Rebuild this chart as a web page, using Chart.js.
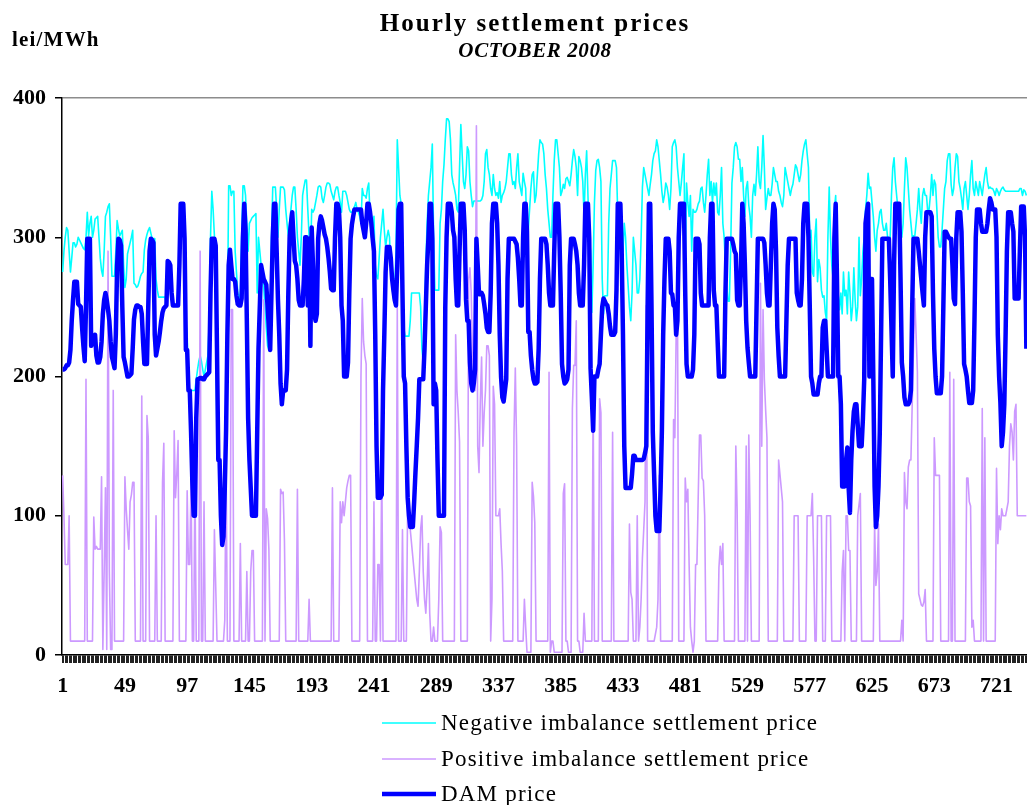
<!DOCTYPE html>
<html>
<head>
<meta charset="utf-8">
<title>Hourly settlement prices</title>
<script src="https://cdn.jsdelivr.net/npm/chart.js@4.4.1/dist/chart.umd.min.js"></script>
<style>
  html, body { margin: 0; padding: 0; background: #fff; overflow: hidden; }
  #wrap { width: 1027px; height: 805px; }
</style>
</head>
<body>
<div id="wrap"><canvas id="chart" width="1027" height="805"></canvas></div>
<script>
// one row per day, 24 hourly values (lei/MWh)
const damPrice = [
  205,205,206,208,208,210,219,240,255,268,268,268,252,251,250,235,222,211,250,299,299,299,222,225,
  228,230,215,210,210,214,225,245,255,260,255,248,240,225,214,210,206,230,280,299,298,294,250,214,
  210,205,200,200,201,202,220,241,248,251,251,250,250,245,225,209,209,209,250,290,299,298,296,230,
  215,220,225,232,240,246,249,250,251,283,282,280,260,251,251,251,251,251,280,324,324,324,299,219,
  219,190,190,160,124,100,100,170,198,198,199,199,198,198,200,201,202,203,260,299,299,299,294,219,
  140,140,100,79,85,120,161,230,280,291,280,270,270,268,258,252,251,251,256,300,324,305,240,170,
  140,120,100,100,100,100,160,220,250,280,275,270,268,266,250,235,219,260,300,324,324,290,255,230,
  195,180,190,190,190,205,260,300,310,318,300,283,280,270,255,251,251,251,270,300,300,251,299,222,
  307,280,245,240,245,299,310,315,312,307,302,299,293,285,275,263,262,262,300,324,324,320,300,251,
  240,200,200,200,210,260,299,309,315,320,320,320,320,320,320,310,305,300,310,324,324,318,310,299,
  290,230,150,113,113,113,115,190,230,275,293,293,293,285,270,262,255,251,280,320,324,324,260,200,
  195,150,113,100,92,92,92,110,131,150,170,198,198,198,198,220,250,280,299,324,324,299,180,195,
  190,140,100,100,100,100,100,250,300,324,324,324,318,305,300,270,251,251,290,324,324,324,305,255,
  240,240,210,195,190,195,205,299,280,259,259,260,258,252,245,235,232,232,260,310,324,324,324,310,
  280,230,200,185,182,190,198,270,299,299,299,299,299,297,295,285,270,251,251,300,324,324,304,232,
  232,215,205,198,195,195,196,220,270,299,299,299,299,295,280,260,251,251,251,290,324,324,324,300,
  260,209,200,195,196,198,205,280,299,299,299,295,290,280,260,251,251,251,280,324,324,324,299,206,
  185,161,200,200,200,205,209,230,250,256,254,252,251,245,236,230,230,230,232,262,324,324,324,290,
  230,150,120,120,120,120,120,130,143,143,140,140,140,140,140,140,141,145,150,250,324,324,250,160,
  130,100,89,89,89,120,161,230,270,299,299,299,290,260,259,251,251,230,240,300,324,324,324,324,
  260,209,200,200,200,200,205,230,299,299,299,295,260,251,251,251,251,251,251,300,324,324,262,251,
  251,225,200,200,200,200,200,260,299,299,299,299,299,295,290,288,255,251,251,280,324,310,280,240,
  221,210,200,200,200,200,200,250,299,299,299,299,299,296,280,260,251,251,280,310,324,320,290,235,
  215,200,200,200,200,200,240,280,299,299,299,299,299,299,260,255,251,251,270,310,324,324,324,300,
  251,200,195,187,187,187,187,195,200,200,235,240,240,220,200,200,200,200,200,300,324,270,200,200,
  180,121,121,121,140,149,120,102,140,161,175,180,180,165,150,150,150,170,198,310,318,324,200,270,
  270,200,121,92,100,121,160,230,299,299,299,299,299,299,270,235,200,280,324,324,324,324,270,210,
  200,185,180,180,180,182,190,250,299,299,299,299,290,280,270,260,251,300,318,318,318,318,315,260,
  220,200,188,188,188,188,200,250,304,304,302,300,299,299,280,256,252,300,318,318,318,304,260,209,
  205,200,190,181,181,181,190,240,300,320,320,320,310,304,304,304,304,310,320,328,325,320,320,320,
  300,230,200,181,150,160,180,230,290,318,318,318,310,304,256,256,256,256,290,322,322,322,300,220
];

const negativePrice = [
  275,290,300,307,305,290,275,285,296,296,293,295,300,298,296,294,292,291,300,318,301,310,315,300,
  305,313,314,315,300,285,276,272,290,315,318,322,324,300,272,272,272,290,312,306,301,303,305,280,
  264,270,288,292,296,300,305,267,266,264,265,268,272,274,275,291,298,302,305,307,303,299,299,299,
  270,262,257,257,257,257,257,257,251,283,282,280,262,252,251,251,251,251,280,324,324,324,304,240,
  230,195,190,190,190,190,190,198,205,211,215,211,205,200,205,210,215,240,300,333,320,301,250,150,
  140,140,100,85,90,125,165,240,337,337,330,333,333,290,275,260,255,260,300,337,337,330,310,290,
  310,312,314,315,316,317,260,300,290,280,270,264,250,235,222,219,240,300,336,336,336,320,300,320,
  336,336,336,334,320,310,301,310,320,330,336,336,320,300,290,280,300,330,336,341,341,320,301,280,
  320,318,320,325,330,336,337,336,328,325,330,336,339,339,338,333,330,327,333,336,336,330,325,318,
  333,333,333,330,325,320,318,318,320,322,325,320,318,315,310,335,330,330,328,335,339,315,300,310,
  315,280,272,270,285,300,310,320,305,293,300,305,300,275,265,256,262,290,370,350,330,324,260,235,
  229,229,229,229,240,260,260,260,260,260,260,260,250,220,210,240,280,310,330,340,350,367,300,262,
  262,262,262,310,320,340,352,370,385,385,383,370,345,339,335,330,320,318,350,381,360,340,335,345,
  365,362,340,330,322,326,326,326,326,326,326,327,330,340,360,363,350,345,335,330,345,335,330,332,
  328,340,325,330,332,335,340,350,360,360,345,338,340,335,350,360,340,335,330,346,340,335,300,305,
  320,335,345,347,325,330,345,360,370,368,367,360,345,335,320,310,300,300,330,355,370,370,360,350,
  330,333,338,335,342,343,340,337,345,355,363,358,350,330,358,355,350,340,315,345,362,330,300,290,
  246,280,325,348,355,356,350,340,270,245,258,258,258,310,335,345,355,355,355,350,315,310,312,300,
  290,310,300,280,265,250,240,260,300,290,280,260,260,270,300,336,350,345,340,335,330,338,345,355,
  360,362,370,365,355,345,333,325,330,339,336,330,320,335,365,368,370,365,350,340,330,339,350,360,
  278,339,325,315,330,290,320,318,318,320,324,326,335,336,325,318,330,345,356,330,340,325,339,330,
  339,318,316,330,350,310,300,280,265,254,254,290,339,350,365,368,365,356,356,340,350,330,315,335,
  340,323,315,300,330,338,330,345,365,340,335,350,373,350,320,328,335,330,330,338,350,345,340,340,
  333,330,325,322,330,350,345,340,335,330,335,338,345,352,350,345,340,345,355,362,367,370,360,350,
  300,305,275,272,300,313,268,284,278,262,257,258,246,240,300,336,300,280,270,320,330,285,258,248,
  260,245,275,258,262,245,275,260,240,250,278,255,240,250,300,258,270,290,300,320,330,346,335,336,
  325,315,300,290,305,310,318,320,310,305,305,310,300,280,300,330,350,357,340,330,320,318,305,300,
  310,335,357,350,335,320,310,300,301,301,310,320,335,320,310,330,335,330,330,318,320,330,345,330,
  341,338,320,300,293,293,305,320,335,340,355,360,360,338,330,335,350,360,358,340,335,328,320,335,
  340,330,320,330,345,355,335,330,340,335,330,340,335,330,338,345,350,340,335,336,335,335,333,330,
  335,333,330,333,335,336,334,333,333,333,333,333,333,333,333,333,333,333,335,335,330,334,333,330
];

const positivePrice = [
  129,100,65,65,65,100,10,10,10,10,10,10,10,10,10,10,10,10,198,10,10,10,10,10,
  99,76,78,76,76,76,128,4,60,120,4,290,60,4,4,190,10,10,10,10,10,10,10,10,
  128,105,90,76,110,115,124,124,10,10,10,10,10,186,10,10,10,172,156,10,10,10,10,10,
  100,10,10,10,10,124,152,10,10,10,10,10,10,10,161,113,130,154,10,10,10,10,10,10,
  118,65,65,126,10,10,126,10,10,10,290,10,10,110,10,10,10,10,10,10,10,90,50,10,
  10,10,10,10,10,25,140,10,10,10,248,248,10,10,10,10,10,80,10,10,10,10,60,10,
  10,60,75,75,10,10,10,10,10,10,10,255,10,105,98,76,10,10,10,10,10,10,10,10,
  119,116,117,82,10,10,10,10,10,10,10,10,10,119,10,10,10,10,10,10,10,10,40,10,
  10,10,10,10,10,10,10,10,10,10,10,10,10,10,10,10,120,10,10,10,10,10,110,95,
  110,100,110,120,125,129,129,10,10,10,10,10,10,10,200,256,225,215,209,10,10,10,10,10,
  110,10,10,65,65,10,140,10,10,10,10,10,10,10,10,10,10,10,251,10,10,10,90,10,
  10,10,110,100,90,80,70,60,50,40,35,60,90,100,60,40,30,50,80,30,10,10,20,10,
  10,10,40,92,88,10,10,10,10,10,10,10,10,10,10,230,190,174,153,10,10,10,10,10,
  10,270,278,260,214,200,190,380,150,131,182,214,150,174,190,222,222,215,10,40,193,180,100,100,
  100,105,80,60,10,10,10,10,10,10,10,10,160,206,150,10,10,10,10,10,40,20,2,2,
  2,2,124,114,95,10,10,10,10,10,10,10,10,10,10,203,2,10,10,2,2,2,2,2,
  2,2,116,123,10,10,2,2,2,177,208,208,240,10,10,2,2,2,30,10,10,10,10,10,
  10,184,10,10,10,10,184,174,10,10,10,10,10,10,10,10,160,10,10,10,10,10,10,10,
  10,10,10,10,10,94,45,40,10,10,10,100,10,20,40,70,90,110,251,10,10,10,10,10,
  10,15,20,40,129,10,10,10,10,10,10,10,10,10,10,169,156,230,262,10,10,10,10,10,
  127,110,119,65,20,10,2,10,65,65,113,158,158,127,125,100,10,10,10,10,10,10,10,10,
  10,10,63,78,65,80,10,10,10,10,10,10,10,10,10,150,105,10,10,10,10,10,10,150,
  10,158,100,10,10,10,10,10,10,10,267,150,248,198,176,156,10,10,10,10,10,10,10,10,
  140,130,120,110,10,10,10,10,10,10,10,10,100,100,100,100,10,10,10,10,10,10,100,100,
  100,100,116,70,10,10,100,100,100,100,10,10,10,100,100,100,100,10,10,10,10,10,10,10,
  10,60,75,10,100,100,75,75,10,10,10,10,10,100,108,116,10,10,10,10,10,10,10,10,
  10,10,94,50,60,94,10,10,10,10,10,10,10,10,10,10,10,10,10,10,10,10,10,25,
  10,131,110,105,135,140,140,180,220,256,230,203,44,40,36,35,38,47,10,10,10,10,10,10,
  156,129,129,129,129,10,10,10,10,10,10,10,203,10,10,198,10,10,10,10,10,10,10,10,
  10,127,127,110,107,20,25,10,10,10,10,10,10,177,10,156,10,10,10,10,10,10,10,10,
  134,80,100,90,105,100,100,100,105,110,150,166,160,140,175,180,100,100,100,100,100,100,100,100
];

// hour numbers 1..744 as categories, only some get a label
const hours = damPrice.map((v, i) => String(i + 1));
const shownTicks = ['1','49','97','145','193','241','289','337','385','433','481','529','577','625','673','721'];

const seriesNames = ['Negative imbalance settlement price', 'Positive imbalance settlement price', 'DAM price'];
const titleText = 'Hourly settlement prices';
const subtitleText = 'OCTOBER 2008';
const unitText = 'lei/MWh';

const serif = '"Liberation Serif", "Times New Roman", serif';

const textPlugin = {
    id: 'texts',
    afterDraw(chart) {
        const c = chart.ctx;
        c.save();
        c.fillStyle = '#000';
        c.textBaseline = 'alphabetic';

        c.textAlign = 'center';
        c.font = 'bold 25px ' + serif;
        c.letterSpacing = '2px';
        c.fillText(titleText, 535, 31);
        c.font = 'italic bold 21px ' + serif;
        c.letterSpacing = '0.6px';
        c.fillText(subtitleText, 535, 57);

        c.textAlign = 'left';
        c.font = 'bold 21px ' + serif;
        c.letterSpacing = '1.2px';
        c.fillText(unitText, 12, 46);

        // legend, stacked under the plot
        c.font = '23px ' + serif;
        c.letterSpacing = '1.2px';
        c.textBaseline = 'middle';
        let ys = [723, 759, 794];
        chart.data.datasets.forEach((ds, i) => {
            c.strokeStyle = ds.borderColor;
            c.lineWidth = ds.borderWidth;
            c.beginPath();
            c.moveTo(382, ys[i]);
            c.lineTo(436, ys[i]);
            c.stroke();
            c.fillText(ds.label, 441, ys[i] + 1);
        });
        c.restore();
    }
};

new Chart(document.getElementById('chart'), {
    type: 'line',
    data: {
        labels: hours,
        datasets: [{
            label: seriesNames[0],
            data: negativePrice,
            borderColor: '#00FFFF',
            borderWidth: 1.6,
            order: 3
        }, {
            label: seriesNames[1],
            data: positivePrice,
            borderColor: '#CC99FF',
            borderWidth: 1.6,
            order: 2
        }, {
            label: seriesNames[2],
            data: damPrice,
            borderColor: '#0000FF',
            borderWidth: 4.5,
            order: 1
        }]
    },
    options: {
        responsive: false,
        animation: false,
        devicePixelRatio: 1,
        layout: {
            padding: { top: 98, right: 0, bottom: 0, left: 0 }
        },
        elements: {
            point: { radius: 0 },
            line: { tension: 0, borderJoinStyle: 'round' }
        },
        plugins: {
            legend: { display: false },
            title: { display: false },
            tooltip: { enabled: false }
        },
        scales: {
            x: {
                offset: true,
                afterFit: (scale) => {
                    scale.height = 150;
                    scale.paddingRight = 0;
                    scale.paddingLeft = 0;
                },
                border: { display: true, color: '#000', width: 1.5 },
                grid: {
                    offset: false,
                    drawOnChartArea: false,
                    drawTicks: true,
                    tickLength: 8,
                    tickColor: '#222',
                    lineWidth: 1
                },
                ticks: {
                    autoSkip: false,
                    maxRotation: 0,
                    minRotation: 0,
                    padding: 10,
                    color: '#000',
                    font: { family: serif, size: 22, weight: 'bold' },
                    callback: function(value, index) {
                        let lab = hours[index];
                        return shownTicks.includes(lab) ? lab : '';
                    }
                }
            },
            y: {
                min: 0,
                max: 400,
                afterFit: (scale) => { scale.width = 62; },
                border: { display: true, color: '#000', width: 1.5 },
                grid: {
                    drawTicks: true,
                    tickLength: 7,
                    tickColor: '#000',
                    lineWidth: 1.5,
                    color: (ctx) => (ctx.tick && ctx.tick.value === 400) ? '#8c8c8c' : 'rgba(0,0,0,0)'
                },
                ticks: {
                    stepSize: 100,
                    padding: 9,
                    color: '#000',
                    font: { family: serif, size: 22, weight: 'bold' }
                }
            }
        }
    },
    plugins: [textPlugin]
});
</script>
</body>
</html>
